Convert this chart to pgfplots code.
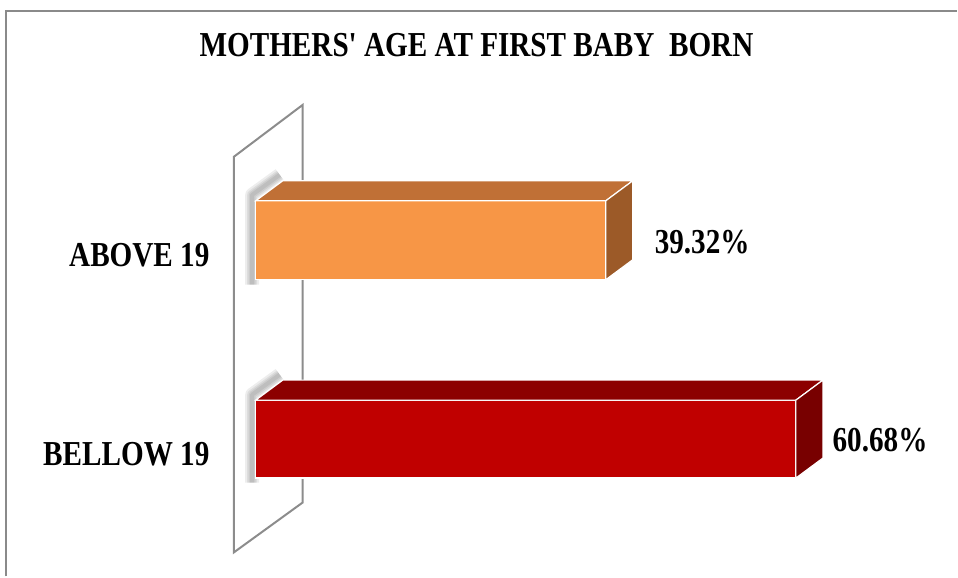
\documentclass[border=0pt]{standalone}
\usepackage{graphicx}
\usepackage{pgfplots}
\pgfplotsset{compat=1.18}
\usepackage{fontspec}
\setmainfont{Liberation Serif}
\definecolor{orF}{HTML}{F79646}
\definecolor{orT}{HTML}{C07036}
\definecolor{orS}{HTML}{9C5A28}
\definecolor{rdF}{HTML}{C00000}
\definecolor{rdT}{HTML}{8C0000}
\definecolor{rdS}{HTML}{780000}
\definecolor{wallgray}{HTML}{8C8C8C}
\definecolor{framegray}{HTML}{8A8A8A}
\newcommand{\lbl}[1]{\scalebox{1}[1.2]{\fontsize{14.6}{17}\selectfont\bfseries #1}}
\begin{document}
\begin{tikzpicture}
\begin{axis}[width=479pt,height=288.5pt,scale only axis,
  xmin=-28.73,xmax=78.79,ymin=0,ymax=577,axis lines=none,clip=false]
\path (rel axis cs:0,0) rectangle (rel axis cs:1,1);
% frame
\draw[framegray, line width=0.9pt] (axis cs:-28.06,0) -- (axis cs:-28.06,566) -- (axis cs:78.79,566);
% wall
\addplot[draw=wallgray, line width=1pt] coordinates {(-2.47,24) (-2.47,420) (5.27,472) (5.27,74)} -- cycle;
% shadows
\pgfplotsinvokeforeach{7,5,3.5,2}{
\addplot[draw=black, opacity=0.07, line width=#1pt, line join=round] coordinates {(-0.4,292) (-0.4,382) (2.7,402)};
\addplot[draw=black, opacity=0.07, line width=#1pt, line join=round] coordinates {(-0.4,94) (-0.4,182) (2.7,202)};
}
% ABOVE 19
\addplot[xbar, bar width=79, fill=orF, draw=white, line width=0.6pt] coordinates {(39.32,336.5)};
\addplot[fill=orT, draw=white, line width=0.6pt] coordinates {(0,376) (3.03,396) (42.35,396) (39.32,376)} -- cycle;
\addplot[fill=orS, draw=white, line width=0.6pt] coordinates {(39.32,376) (42.35,396) (42.35,317) (39.32,297)} -- cycle;
% BELLOW 19
\addplot[xbar, bar width=78, fill=rdF, draw=white, line width=0.6pt] coordinates {(60.68,137.5)};
\addplot[fill=rdT, draw=white, line width=0.6pt] coordinates {(0,176.5) (3.03,196.5) (63.71,196.5) (60.68,176.5)} -- cycle;
\addplot[fill=rdS, draw=white, line width=0.6pt] coordinates {(60.68,176.5) (63.71,196.5) (63.71,118.5) (60.68,98.5)} -- cycle;
% labels
\node[anchor=east, inner sep=0pt] at (axis cs:-5.16,321.5) {\lbl{ABOVE 19}};
\node[anchor=east, inner sep=0pt] at (axis cs:-5.16,122) {\lbl{BELLOW 19}};
\node[anchor=west, inner sep=0pt] at (axis cs:44.78,335) {\lbl{39.32\%}};
\node[anchor=west, inner sep=0pt] at (axis cs:64.76,136) {\lbl{60.68\%}};
\node[inner sep=0pt] at (axis cs:24.8,532) {\lbl{MOTHERS\textquotesingle{} AGE AT FIRST BABY\ \ BORN}};
\end{axis}
\end{tikzpicture}
\end{document}
